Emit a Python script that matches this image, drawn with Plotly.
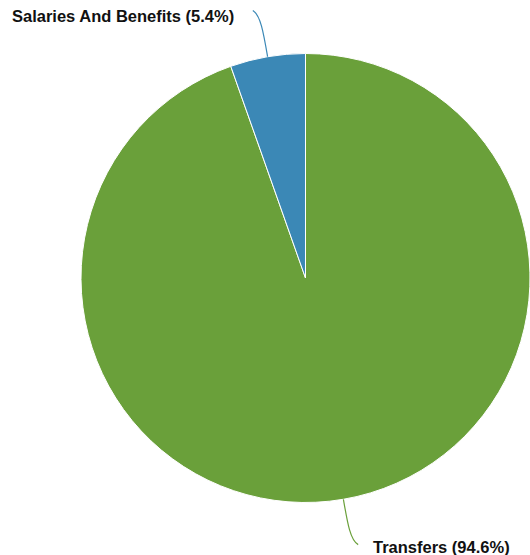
import math
import plotly.graph_objects as go

# Budget split by category (drawn clockwise from 12 o'clock)
categories = ["Transfers", "Salaries And Benefits"]
shares = [94.6, 5.4]
slice_colors = ["#6aa03a", "#3b88b6"]

W, H = 530, 555
CX, CY, R = 305.5, 278.0, 224.5   # pie centre and radius in pixels

fig = go.Figure()

fig.add_trace(go.Pie(
    labels=categories,
    values=shares,
    sort=False,
    direction="clockwise",
    rotation=0,
    textinfo="none",
    hoverinfo="label+percent",
    marker=dict(colors=slice_colors, line=dict(color="white", width=1)),
    domain=dict(x=[(CX - R) / W, min(1, (CX + R) / W)],
                y=[1 - (CY + R) / H, 1 - (CY - R) / H]),
    showlegend=False,
))

# Invisible pixel-space axes used to place leader lines and labels
fig.add_trace(go.Scatter(x=[0, W], y=[0, H], mode="markers",
                         marker=dict(opacity=0), hoverinfo="skip",
                         showlegend=False))


def point(theta_deg, radius):
    t = math.radians(theta_deg)
    return CX + radius * math.sin(t), CY - radius * math.cos(t)


total = sum(shares)
start = 0.0
shapes, annotations = [], []
for name, val, col in zip(categories, shares, slice_colors):
    sweep = val / total * 360
    mid = start + sweep / 2             # clockwise from 12 o'clock
    start += sweep
    side = 1 if math.sin(math.radians(mid)) > 0 else -1
    above = math.cos(math.radians(mid)) > 0
    p0 = point(mid, R)
    p1 = point(mid, R + 25)
    p2 = point(mid, R + 42)
    e = point(mid, R + 46)
    p3 = (e[0] + 7 * side, e[1] + (-1 if above else 0))
    shapes.append(dict(
        type="path", xref="x", yref="y",
        path=f"M {p0[0]:.2f} {p0[1]:.2f} C {p1[0]:.2f} {p1[1]:.2f}, "
             f"{p2[0]:.2f} {p2[1]:.2f}, {p3[0]:.2f} {p3[1]:.2f}",
        line=dict(color=col, width=1.2),
    ))
    pct = val / total * 100
    annotations.append(dict(
        x=p3[0] + (13 if side > 0 else -17), y=p3[1] + (6 if above else 2.5),
        xref="x", yref="y",
        text=f"<b>{name} ({pct:.1f}%)</b>",
        showarrow=False,
        xanchor="left" if side > 0 else "right", yanchor="middle",
        font=dict(family="Liberation Sans, Arial, sans-serif", size=16.5,
                  color="#111111"),
    ))

fig.update_layout(
    width=W, height=H,
    margin=dict(l=0, r=0, t=0, b=0),
    paper_bgcolor="white", plot_bgcolor="rgba(0,0,0,0)",
    xaxis=dict(range=[0, W], visible=False, fixedrange=True, domain=[0, 1]),
    yaxis=dict(range=[H, 0], visible=False, fixedrange=True, domain=[0, 1]),
    shapes=shapes,
    annotations=annotations,
)

fig.write_html("out.html")
